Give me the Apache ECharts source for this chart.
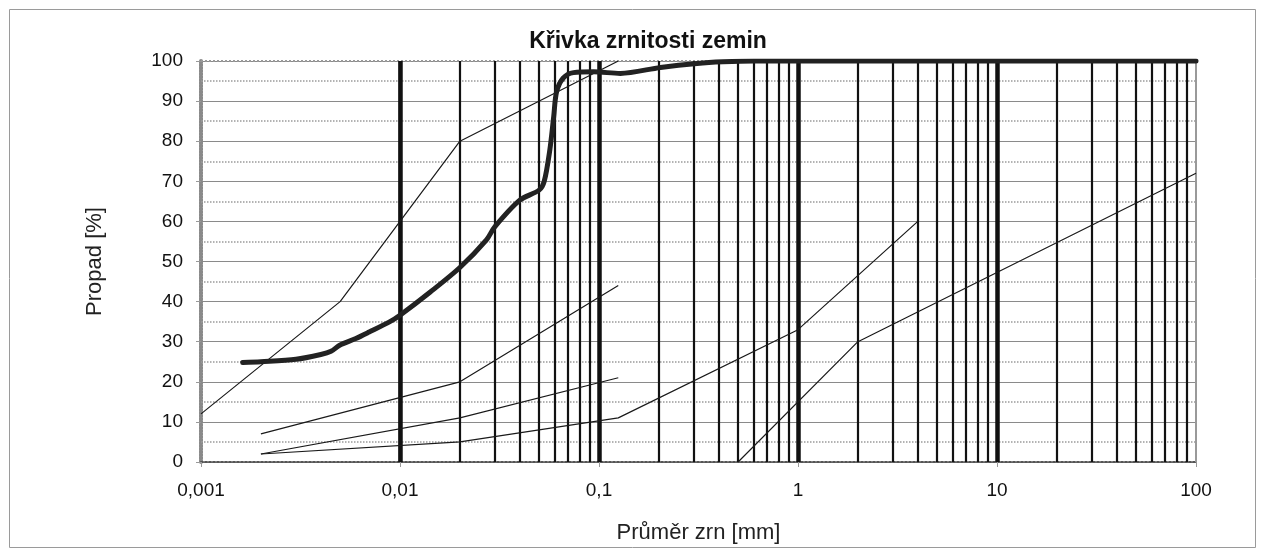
<!DOCTYPE html>
<html>
<head>
<meta charset="utf-8">
<script src="https://cdn.jsdelivr.net/npm/echarts@6/dist/echarts.min.js"></script>
<style>
  html, body { margin: 0; padding: 0; background: #fff; }
  #chart { width: 1266px; height: 557px; }
</style>
</head>
<body>
<div id="chart"></div>
<script>
// Grain-size distribution (Křivka zrnitosti zemin)

// Axis labels
const xTickLabels = ['0,001', '0,01', '0,1', '1', '10', '100'];
const yTicks = [0, 10, 20, 30, 40, 50, 60, 70, 80, 90, 100];
const yHalfTicks = [5, 15, 25, 35, 45, 55, 65, 75, 85, 95];

// Decades and in-between multipliers for the log grid
const decades = [0.001, 0.01, 0.1, 1, 10, 100];
const multipliers = [2, 3, 4, 5, 6, 7, 8, 9];

// Measured curve: [diameter mm, passing %]
const sampleCurve = [
  [0.00162, 24.8], [0.002, 25.0], [0.003, 25.6], [0.004, 26.8], [0.0045, 27.6],
  [0.005, 29.2], [0.006, 30.8], [0.007, 32.4], [0.0089, 35.0], [0.01, 36.6],
  [0.0142, 42.4], [0.02, 48.5], [0.0272, 55.4], [0.03, 58.7], [0.04, 65.3],
  [0.05, 67.8], [0.053, 69.9], [0.0566, 77.8], [0.0592, 86.1], [0.0612, 92.3],
  [0.066, 95.7], [0.0744, 97.1], [0.094, 97.3], [0.128, 96.9], [0.2036, 98.4],
  [0.311, 99.4], [0.42, 99.8], [0.6, 100], [100, 100]
];

// Boundary lines
const boundaryA = [[0.001, 12], [0.005, 40], [0.01, 60], [0.02, 80], [0.125, 100]];
const boundaryB = [[0.002, 7], [0.02, 20], [0.125, 44]];
const boundaryC = [[0.002, 2], [0.02, 11], [0.125, 21]];
const boundaryD = [[0.002, 2], [0.02, 5], [0.125, 11], [1, 33], [4, 60]];
const boundaryE = [[0.5, 0], [2, 30], [100, 72]];

const FONT = '"Liberation Sans", Arial, sans-serif';

// Vertical grid lines
const minorX = [];
decades.slice(0, -1).forEach(d => multipliers.forEach(m => minorX.push(+(d * m).toPrecision(6))));
const innerDecades = decades.slice(1, -1);

function thinLine(data) {
  return {
    type: 'line', data: data, symbol: 'none', z: 5, silent: true,
    lineStyle: { color: '#1a1a1a', width: 1.2 }
  };
}

const chart = echarts.init(document.getElementById('chart'), null, { renderer: 'canvas' });

chart.setOption({
  animation: false,
  backgroundColor: '#fff',
  title: {
    text: 'Křivka zrnitosti zemin',
    left: 643, top: 25, textAlign: 'center',
    textStyle: { fontFamily: FONT, fontSize: 23, fontWeight: 'bold', color: '#111' }
  },
  graphic: [{
    type: 'rect', shape: { x: 9.5, y: 9.5, width: 1246, height: 538 },
    style: { fill: 'none', stroke: '#9a9a9a', lineWidth: 1 }, silent: true
  }],
  grid: { left: 201, right: 70, top: 61, bottom: 95 },
  xAxis: {
    type: 'log', logBase: 10, min: 0.001, max: 100, interval: 1,
    name: 'Průměr zrn [mm]', nameLocation: 'middle', nameGap: 60,
    nameTextStyle: { fontFamily: FONT, fontSize: 22, color: '#222' },
    axisLine: { show: true, lineStyle: { color: '#555', width: 2, type: 'dotted' } },
    axisTick: { show: true, length: 5, lineStyle: { color: '#999' } },
    axisLabel: {
      fontFamily: FONT, fontSize: 19, color: '#111', margin: 19,
      formatter: (v, i) => xTickLabels[i]
    },
    splitLine: { show: false }
  },
  yAxis: {
    type: 'value', min: 0, max: 100, interval: 10,
    name: 'Propad [%]', nameLocation: 'middle', nameGap: 95,
    nameTextStyle: { fontFamily: FONT, fontSize: 22, color: '#222' },
    axisLine: { show: true, lineStyle: { color: '#8a8a8a', width: 4, type: [2, 1] } },
    axisTick: { show: true, length: 5, lineStyle: { color: '#999' } },
    axisLabel: { fontFamily: FONT, fontSize: 19, color: '#111', margin: 18 },
    splitLine: { show: true, lineStyle: { color: '#8a8a8a', width: 1 } }
  },
  series: [
    {
      // grid overlay
      type: 'line', data: [], symbol: 'none', z: 2, silent: true, clip: false,
      markLine: {
        silent: true, symbol: 'none', animation: false,
        label: { show: false },
        data: [
          ...yHalfTicks.map(v => ({ yAxis: v, lineStyle: { color: '#9a9a9a', width: 1.5, type: 'dotted' } })),
          { yAxis: 100, lineStyle: { color: '#9a9a9a', width: 2, type: 'dotted' } },
          ...minorX.map(v => ({ xAxis: v, lineStyle: { color: '#111', width: 2.2, type: 'solid' } })),
          ...innerDecades.map(v => ({ xAxis: v, lineStyle: { color: '#111', width: 4.5, type: 'solid' } })),
          { xAxis: decades[decades.length - 1], lineStyle: { color: '#999', width: 2, type: 'solid' } }
        ]
      }
    },
    thinLine(boundaryA),
    thinLine(boundaryB),
    thinLine(boundaryC),
    thinLine(boundaryD),
    thinLine(boundaryE),
    {
      type: 'line', data: sampleCurve, symbol: 'none', z: 6, silent: true,
      smooth: 0.3,
      lineStyle: { color: '#222', width: 5, cap: 'round', join: 'round' }
    }
  ]
});
</script>
</body>
</html>
